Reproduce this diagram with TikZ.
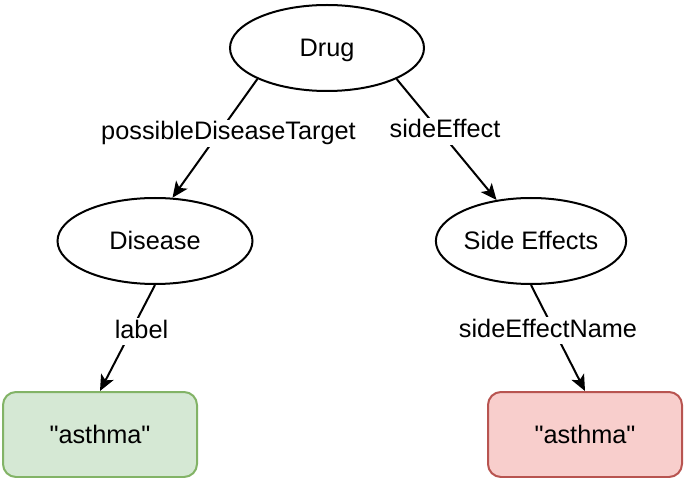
\documentclass[tikz,border=0pt]{standalone}
\usepackage{fontspec}
\setmainfont{Liberation Sans}
\usetikzlibrary{shapes.geometric,arrows.meta}
\definecolor{greenF}{HTML}{D5E8D4}
\definecolor{greenS}{HTML}{82B366}
\definecolor{redF}{HTML}{F8CECC}
\definecolor{redS}{HTML}{B85450}
\begin{document}
\begin{tikzpicture}[x=1pt,y=-1pt,
  every node/.style={font=\fontsize{25.3pt}{30pt}\selectfont, text height=18pt, text depth=0pt, inner sep=0pt},
  ent/.style={ellipse, draw=black, line width=2pt, fill=white, minimum height=86pt},
  valbox/.style={rectangle, rounded corners=13pt, line width=2pt, minimum width=194pt, minimum height=85pt},
  edge/.style={draw=black, line width=2pt, -{Stealth[length=16pt,width=14pt,inset=4pt]}},
  lbl/.style={fill=white, anchor=base, text depth=5pt, inner xsep=2pt, inner ysep=2pt}
]
\useasboundingbox (0,0) rectangle (685,478);

\node[ent, minimum width=194pt] (drug) at (327,48) {Drug};
\node[ent, minimum width=195pt] (disease) at (155,241) {Disease};
\node[ent, minimum width=176pt] (side) at (531,241) {Side Effects};
\node[valbox, draw=greenS, fill=greenF] (vg) at (100,434.5) {\textquotedbl asthma\textquotedbl};
\node[valbox, draw=redS, fill=redF] (vr) at (585,434.5) {\textquotedbl asthma\textquotedbl};

\draw[edge] (drug.204.6) -- (disease.68.4);
\draw[edge] (drug.336.8) -- (side.130.4);
\draw[edge] (disease.south) -- (vg.north);
\draw[edge] (side.south) -- (vr.north);

\node[lbl] (l1) at (228.5,140) {possibleDiseaseTarget};
\node[lbl] (l2) at (445,138) {sideEffect};
\node[lbl] (l3) at (141.5,338) {label};
\node[lbl] (l4) at (548,337) {sideEffectName};
\end{tikzpicture}
\end{document}
